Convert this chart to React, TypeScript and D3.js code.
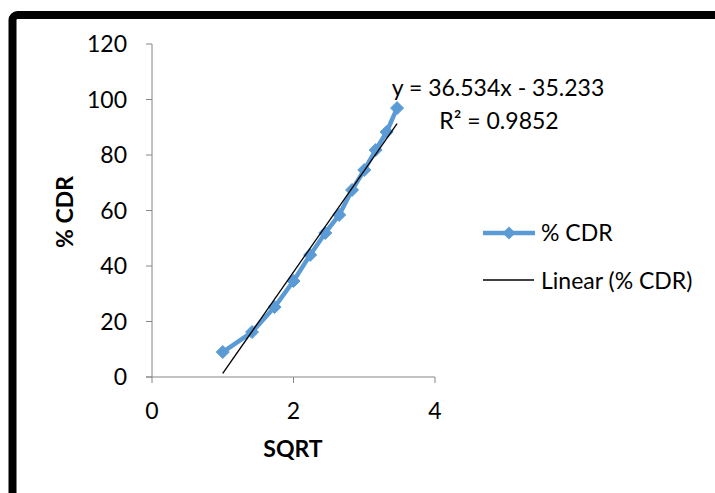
import { scaleLinear, line } from "d3";

// x = square root of time, y = % cumulative drug release
const sqrtT = [1, 1.414, 1.732, 2, 2.236, 2.449, 2.646, 2.828, 3, 3.162, 3.317, 3.464];
const cdr = [9.0, 16.2, 25.2, 34.6, 44.0, 51.9, 58.4, 67.4, 74.6, 81.8, 88.3, 96.9];

const xTicks = [0, 2, 4];
const yTicks = [0, 20, 40, 60, 80, 100, 120];

// linear trendline as printed on the chart
const slope = 36.534;
const intercept = -35.233;
const r2 = 0.9852;

const font = "Lato, 'Open Sans', sans-serif";
const blue = "#5B9BD5";
const axisGrey = "#868686";
const fs = 23;

let diamond = (x: number, y: number, r: number) =>
	`M${x},${y - r}L${x + r},${y}L${x},${y + r}L${x - r},${y}Z`;

export default function App() {
	let width = 715;
	let height = 493;

	let xScale = scaleLinear().domain([0, 4]).range([152, 435]);
	let yScale = scaleLinear().domain([0, 120]).range([377, 44]);

	let points = sqrtT.map((x, i) => ({ x, y: cdr[i] }));

	let lineGen = line<{ x: number; y: number }>()
		.x((d) => xScale(d.x))
		.y((d) => yScale(d.y));

	let x0 = sqrtT[0];
	let x1 = sqrtT[sqrtT.length - 1];
	let trend = [
		{ x: x0, y: slope * x0 + intercept },
		{ x: x1, y: slope * x1 + intercept },
	];

	return (
		<svg
			width={width}
			height={height}
			style={{ position: "absolute", left: 0, top: 0, background: "#fff" }}
			fontFamily={font}
		>
			<rect x={12.5} y={15} width={900} height={700} rx={5} fill="#fff" stroke="#000" strokeWidth={8} />

			{/* y axis */}
			<line x1={xScale(0)} x2={xScale(0)} y1={yScale(0)} y2={yScale(120)} stroke={axisGrey} />
			{yTicks.map((t) => (
				<g key={t}>
					<line x1={xScale(0) - 6} x2={xScale(0)} y1={yScale(t)} y2={yScale(t)} stroke={axisGrey} />
					<text x={127} y={yScale(t)} dy="0.36em" textAnchor="end" fontSize={fs} fill="#000">
						{t}
					</text>
				</g>
			))}

			{/* x axis */}
			<line x1={xScale(0) - 6} x2={xScale(4)} y1={yScale(0)} y2={yScale(0)} stroke={axisGrey} />
			{xTicks.map((t) => (
				<g key={t}>
					<line x1={xScale(t)} x2={xScale(t)} y1={yScale(0)} y2={yScale(0) + 6} stroke={axisGrey} />
					<text x={xScale(t)} y={419} textAnchor="middle" fontSize={fs} fill="#000">
						{t}
					</text>
				</g>
			))}

			<text x={293} y={457} textAnchor="middle" fontSize={fs} fontWeight="bold" fill="#000">
				SQRT
			</text>
			<text
				transform="translate(73,212) rotate(-90)"
				textAnchor="middle"
				fontSize={fs}
				fontWeight="bold"
				fill="#000"
			>
				% CDR
			</text>

			{/* series */}
			<path d={lineGen(points) || ""} fill="none" stroke={blue} strokeWidth={4.5} strokeLinejoin="round" />
			{points.map((d, i) => (
				<path key={i} d={diamond(xScale(d.x), yScale(d.y), 6.5)} fill={blue} stroke={blue} strokeWidth={1} />
			))}

			{/* trendline */}
			<path d={lineGen(trend) || ""} fill="none" stroke="#000" strokeWidth={1.3} />

			{/* equation */}
			<text x={498} y={96} textAnchor="middle" fontSize={fs} fill="#000">
				y = {slope}x - {Math.abs(intercept)}
			</text>
			<text x={499} y={129} textAnchor="middle" fontSize={fs} fill="#000">
				R² = {r2}
			</text>

			{/* legend */}
			<line x1={483} x2={535} y1={233} y2={233} stroke={blue} strokeWidth={4.5} />
			<path d={diamond(509, 233, 6.5)} fill={blue} />
			<text x={541} y={241} fontSize={fs} fill="#000">
				% CDR
			</text>
			<line x1={483} x2={534} y1={280} y2={280} stroke="#000" strokeWidth={1.3} />
			<text x={541} y={289} fontSize={fs} fill="#000">
				Linear (% CDR)
			</text>
		</svg>
	);
}
